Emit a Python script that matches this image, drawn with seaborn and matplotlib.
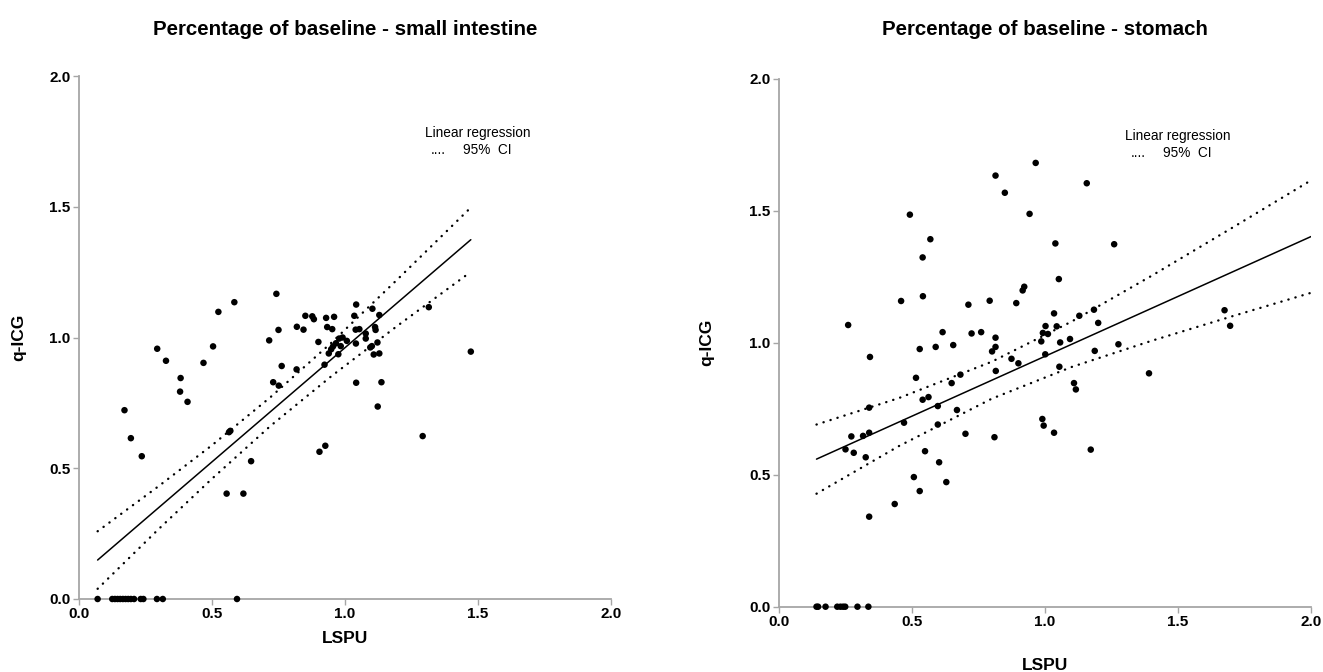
import numpy as np
import pandas as pd
import matplotlib
matplotlib.use("Agg")
import matplotlib.pyplot as plt
import seaborn as sns

# ---------------- data ----------------
si_zero_x = [0.070, 0.125, 0.135, 0.145, 0.155, 0.165, 0.175, 0.185, 0.195, 0.207,
             0.232, 0.242, 0.293, 0.315, 0.594]
si_x = [0.171, 0.195, 0.236, 0.294, 0.327, 0.382, 0.380, 0.408, 0.468, 0.504,
        0.524, 0.584, 0.569, 0.564, 0.555, 0.618, 0.647, 0.715, 0.742, 0.750,
        0.730, 0.751, 0.762, 0.819, 0.844, 0.818, 0.851, 0.877, 0.883, 0.929,
        0.959, 0.933, 0.952, 0.900, 0.923, 0.904, 0.926, 0.948, 0.955, 0.939,
        0.966, 0.978, 0.991, 0.984, 1.007, 0.975, 1.042, 1.035, 1.040, 1.054,
        1.041, 1.078, 1.078, 1.042, 1.103, 1.129, 1.113, 1.115, 1.122, 1.095,
        1.101, 1.108, 1.129, 1.137, 1.123, 1.292, 1.315, 1.473]
si_y = [0.722, 0.615, 0.546, 0.957, 0.911, 0.845, 0.793, 0.754, 0.903, 0.966,
        1.098, 1.135, 0.643, 0.638, 0.403, 0.403, 0.527, 0.989, 1.167, 1.029,
        0.829, 0.816, 0.891, 1.041, 1.030, 0.878, 1.083, 1.081, 1.070, 1.075,
        1.079, 1.040, 1.032, 0.983, 0.896, 0.563, 0.586, 0.955, 0.966, 0.939,
        0.978, 0.996, 1.000, 0.967, 0.987, 0.936, 1.126, 1.083, 1.030, 1.032,
        0.977, 1.015, 0.996, 0.827, 1.110, 1.086, 1.040, 1.029, 0.981, 0.962,
        0.967, 0.935, 0.939, 0.829, 0.736, 0.623, 1.116, 0.946]

# regression line and 95% CI bands
si_fit_x = [0.070, 1.473]
si_fit_y = [0.149, 1.374]
si_ci_x = [0.070, 0.30, 0.50, 0.72, 0.95, 1.20, 1.473]
si_ci_hi = [0.259, 0.432, 0.588, 0.772, 0.981, 1.225, 1.497]
si_ci_lo = [0.039, 0.268, 0.460, 0.662, 0.853, 1.047, 1.251]

st_zero_x = [0.141, 0.147, 0.175, 0.219, 0.231, 0.241, 0.249, 0.295, 0.336]
st_x = [0.250, 0.272, 0.281, 0.316, 0.326, 0.339, 0.339, 0.339, 0.435, 0.470,
        0.507, 0.529, 0.540, 0.562, 0.549, 0.597, 0.597, 0.602, 0.629, 0.649,
        0.669, 0.701, 0.810, 0.990, 0.995, 1.034, 0.260, 0.342, 0.459, 0.492,
        0.540, 0.569, 0.541, 0.529, 0.515, 0.589, 0.615, 0.655, 0.712, 0.724,
        0.760, 0.682, 0.792, 0.814, 0.849, 0.965, 0.942, 1.039, 0.892, 0.916,
        0.922, 0.814, 0.814, 0.801, 0.815, 0.874, 0.900, 0.986, 0.992, 1.011,
        1.002, 1.001, 1.034, 1.044, 1.052, 1.057, 1.054, 1.157, 1.260, 1.094,
        1.129, 1.184, 1.200, 1.187, 1.276, 1.109, 1.116, 1.391, 1.675, 1.696,
        1.172]
st_y = [0.596, 0.645, 0.583, 0.647, 0.566, 0.659, 0.754, 0.341, 0.389, 0.697,
        0.491, 0.438, 0.784, 0.794, 0.589, 0.760, 0.690, 0.547, 0.472, 0.847,
        0.745, 0.655, 0.642, 0.711, 0.686, 0.659, 1.067, 0.946, 1.158, 1.485,
        1.323, 1.392, 1.176, 0.976, 0.867, 0.984, 1.040, 0.991, 1.144, 1.035,
        1.040, 0.879, 1.159, 1.633, 1.568, 1.681, 1.488, 1.376, 1.150, 1.198,
        1.212, 1.019, 0.984, 0.967, 0.893, 0.939, 0.922, 1.005, 1.037, 1.033,
        1.063, 0.956, 1.111, 1.062, 1.241, 1.001, 0.909, 1.604, 1.373, 1.014,
        1.102, 1.125, 1.075, 0.969, 0.994, 0.847, 0.823, 0.884, 1.123, 1.064,
        0.595]

st_fit_x = [0.141, 2.000]
st_fit_y = [0.559, 1.402]
st_ci_x = [0.141, 0.45, 0.80, 1.10, 1.40, 1.70, 2.00]
st_ci_hi = [0.690, 0.790, 0.928, 1.080, 1.253, 1.433, 1.615]
st_ci_lo = [0.428, 0.608, 0.788, 0.908, 1.007, 1.099, 1.189]

tick_values = [0.0, 0.5, 1.0, 1.5, 2.0]
tick_labels = ["0.0", "0.5", "1.0", "1.5", "2.0"]
titles = ["Percentage of baseline - small intestine", "Percentage of baseline - stomach"]
x_label = "LSPU"
y_label = "q-ICG"
legend_line1 = "Linear regression"
legend_dots = "...."
legend_line2 = "95%  CI"

# ---------------- styling ----------------
sns.set_style("ticks")
plt.rcParams["font.family"] = ["Liberation Sans", "DejaVu Sans"]
plt.rcParams["text.color"] = "black"
plt.rcParams["axes.labelcolor"] = "black"
AX_GREY = "#a6a6a6"

fig = plt.figure(figsize=(13.23, 6.72), dpi=100)
ax1 = fig.add_axes([79 / 1323, 1 - 599 / 672, 532 / 1323, 523 / 672])
ax2 = fig.add_axes([779 / 1323, 1 - 606.7 / 672, 532 / 1323, 528 / 672])

panels = [
    dict(ax=ax1, zx=si_zero_x, px=si_x, py=si_y, fx=si_fit_x, fy=si_fit_y,
         cx=si_ci_x, chi=si_ci_hi, clo=si_ci_lo, title=titles[0],
         xpad=7, ypad=17, tpad=29.5),
    dict(ax=ax2, zx=st_zero_x, px=st_x, py=st_y, fx=st_fit_x, fy=st_fit_y,
         cx=st_ci_x, chi=st_ci_hi, clo=st_ci_lo, title=titles[1],
         xpad=21, ypad=25, tpad=31.5),
]

for p in panels:
    ax = p["ax"]
    pts = pd.DataFrame({"x": list(p["zx"]) + list(p["px"]),
                        "y": [0.0] * len(p["zx"]) + list(p["py"])})
    fit = pd.DataFrame({"x": p["fx"], "y": p["fy"]})
    ci = pd.DataFrame({"x": p["cx"], "hi": p["chi"], "lo": p["clo"]})

    sns.lineplot(data=fit, x="x", y="y", ax=ax, color="black", lw=1.1,
                 estimator=None, sort=False)
    for col in ["lo", "hi"]:
        sns.lineplot(data=ci, x="x", y=col, ax=ax, color="black", lw=1.7,
                     estimator=None, sort=False, linestyle=(0, (0.1, 3.0)),
                     dash_capstyle="round")
    sns.scatterplot(data=pts, x="x", y="y", ax=ax, color="black", s=22,
                    edgecolor="none", clip_on=False, zorder=5)

    ax.set_xlim(0, 2)
    ax.set_ylim(0, 2)
    ax.set_xticks(tick_values)
    ax.set_xticklabels(tick_labels)
    ax.set_yticks(tick_values)
    ax.set_yticklabels(tick_labels)
    for lab in ax.get_xticklabels() + ax.get_yticklabels():
        lab.set_fontweight("bold")
        lab.set_fontsize(11)
    ax.tick_params(axis="both", direction="out", length=4, width=1.0,
                   color=AX_GREY, labelcolor="black", pad=2)
    sns.despine(ax=ax)
    for sp in ["left", "bottom"]:
        ax.spines[sp].set_color(AX_GREY)
        ax.spines[sp].set_linewidth(1.3)
    ax.set_xlabel(x_label, fontsize=12.5, fontweight="bold", labelpad=p["xpad"])
    ax.set_ylabel(y_label, fontsize=12.5, fontweight="bold", labelpad=p["ypad"])
    ax.set_title(p["title"], fontsize=14.8, fontweight="bold", pad=p["tpad"],
                 color="black")

    ax.text(1.300, 1.767, legend_line1, fontsize=9.8, ha="left", va="baseline")
    ax.text(1.322, 1.702, legend_dots, fontsize=9.8, ha="left", va="baseline")
    ax.text(1.442, 1.702, legend_line2, fontsize=9.8, ha="left", va="baseline")

fig.savefig("out.png", dpi=100)
